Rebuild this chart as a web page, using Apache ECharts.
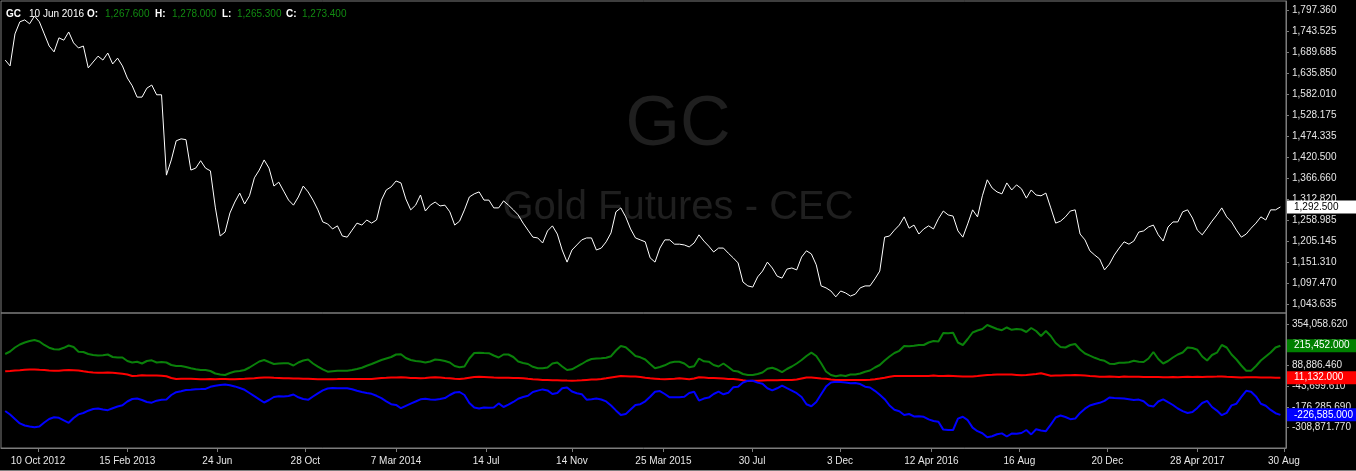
<!DOCTYPE html>
<html><head><meta charset="utf-8">
<script src="https://cdn.jsdelivr.net/npm/echarts@6/dist/echarts.min.js"></script>
<style>html,body{margin:0;padding:0;background:#000;overflow:hidden}#c{width:1356px;height:471px}</style>
</head><body><div id="c"></div>
<script>
// ---------- DATA ----------
const symbolName = 'GC';
const watermarkSub = 'Gold Futures - CEC';
const headerDate = '10 Jun 2016';
const headerKeys = ['O:', 'H:', 'L:', 'C:'];
const headerVals = ['1,267.600', '1,278.000', '1,265.300', '1,273.400'];

const firstDate = '2012-08-24';   // weekly samples
const stepDays = 7;
const axisMin = '2012-08-18';
const axisMax = '2017-09-02';

const tickDates = ['2012-10-10','2013-02-15','2013-06-24','2013-10-28','2014-03-07','2014-07-14','2014-11-14','2015-03-25','2015-07-30','2015-12-03','2016-04-12','2016-08-16','2016-12-20','2017-04-28','2017-08-30'];
const tickLabels = ['10 Oct 2012','15 Feb 2013','24 Jun','28 Oct','7 Mar 2014','14 Jul','14 Nov','25 Mar 2015','30 Jul','3 Dec','12 Apr 2016','16 Aug','20 Dec','28 Apr 2017','30 Aug'];

const priceTicks = [1043.635,1097.470,1151.310,1205.145,1258.985,1312.820,1366.660,1420.500,1474.335,1528.175,1582.010,1635.850,1689.685,1743.525,1797.360];
const priceMin = 1020.56, priceMax = 1820.43;
const indTicks = [-308871.77,-176285.69,-43699.61,88886.46,221472.54,354058.62];
const indMin = -438264, indMax = 424345;

const priceValues = [1669,1654,1736,1767,1772,1762,1782,1767,1736,1705,
1690,1726,1720,1741,1713,1700,1705,1649,1664,1679,
1669,1687,1659,1674,1654,1623,1603,1574,1574,1597,
1605,1580,1580,1374,1413,1462,1467,1465,1387,1392,
1411,1392,1385,1292,1218,1228,1277,1305,1328,1300,
1321,1367,1387,1413,1392,1346,1356,1333,1310,1297,
1318,1346,1331,1310,1285,1254,1249,1236,1244,1218,
1215,1233,1251,1246,1259,1251,1259,1310,1336,1344,
1359,1354,1313,1285,1297,1323,1282,1297,1305,1295,
1297,1280,1246,1256,1285,1318,1326,1331,1310,1310,
1290,1290,1308,1297,1285,1272,1251,1233,1215,1213,
1200,1231,1244,1223,1182,1151,1182,1195,1208,1213,
1213,1182,1187,1203,1226,1280,1290,1267,1236,1213,
1208,1203,1162,1151,1187,1208,1208,1197,1197,1195,
1190,1200,1221,1205,1192,1177,1187,1187,1174,1162,
1149,1100,1090,1087,1113,1128,1151,1136,1115,1110,
1133,1136,1131,1164,1180,1172,1144,1090,1085,1077,
1062,1077,1072,1064,1069,1085,1090,1090,1108,1128,
1215,1218,1233,1246,1267,1238,1246,1223,1236,1244,
1236,1262,1282,1272,1269,1231,1215,1249,1285,1267,
1321,1362,1341,1331,1326,1354,1336,1349,1339,1315,
1336,1323,1321,1328,1290,1251,1256,1267,1282,1285,
1223,1208,1180,1169,1159,1131,1146,1169,1187,1203,
1197,1205,1228,1231,1241,1246,1221,1205,1241,1254,
1254,1280,1285,1264,1233,1221,1238,1256,1272,1290,
1267,1254,1233,1215,1223,1238,1251,1267,1259,1285,
1285,1292.5];

const greenValues = [162400,178300,203900,223100,235800,245400,251800,242200,219900,202600,
192400,191100,202000,216700,207100,177100,175200,162400,156000,152800,
154700,159200,143200,140000,140000,117600,108100,113200,101700,117600,
122100,108100,111200,108100,92100,85700,85700,79300,71000,65300,
60100,60100,53700,37800,31400,28200,40900,50500,53700,60100,
76100,95300,114400,124000,111200,98500,101700,102900,102900,88900,
108100,120800,127200,101700,81200,64600,49300,52500,55700,55700,
55700,60100,66500,74800,87600,98500,111200,124000,133600,143200,
159200,161100,136800,124000,117600,114400,108100,114400,127200,124000,
117600,108100,85700,78000,82500,133600,168800,170700,168800,167500,
152800,140000,159200,159200,143200,114400,104900,98500,80600,71000,
71000,76100,101700,108100,82500,60100,64600,81200,98500,117600,
130400,133600,134900,138100,148300,184700,213500,205800,178300,149600,
141300,127200,98500,71000,79300,90200,106200,113200,113200,101700,
77400,84400,133600,115700,113200,92100,82500,101700,79300,55700,
50500,34600,28200,28200,34600,44100,67800,74800,63300,46100,
66500,82500,101700,124000,149600,170700,149600,102900,50500,28200,
19900,26900,21800,31400,31400,37800,49300,57000,76100,92100,
120800,146400,168800,182800,213500,212200,214800,219900,219900,235800,
245400,242200,296600,295300,298500,235800,219900,258200,299700,312500,
322100,347700,334900,322100,314400,331700,317000,322100,318900,302900,
328500,309300,277400,309300,277400,232700,207100,203900,219900,226300,
191100,165600,151500,138100,126000,118900,100400,98500,106800,106800,
110000,118900,112500,111200,133600,175200,130400,101700,117600,140000,
159200,171900,203900,200700,189200,146400,120800,156000,170700,219900,
203900,159200,127200,88900,55700,55700,85700,120800,146400,171900,
203900,215452];

const redValues = [51800,53700,56300,58800,61400,63300,64000,62000,60100,56900,
55000,55000,58800,60100,58800,57600,51800,47300,44800,42900,
42900,44100,42900,39700,36500,31400,21800,23700,26300,25000,
24300,24300,23700,20500,9000,2600,3900,4500,4500,2600,
700,1300,2600,1300,2600,2600,1300,700,2600,3900,
5800,7700,10300,12800,12200,10300,9000,7700,7100,5800,
5800,4500,3900,2600,1300,700,700,1300,1900,2600,
3200,2600,1900,2600,3200,2600,5800,9000,10300,12200,
12800,13500,11600,9600,8400,7100,9000,12200,13500,11600,
9000,7100,4500,2600,5800,10900,15400,16700,15400,14100,
12200,10900,10900,10300,9600,9000,7100,3900,1300,-1200,
-3800,-4400,-5100,-5700,-6300,-7600,-8300,-7000,-5100,-3100,
-1200,100,2600,7100,12200,17300,21800,20500,19200,17900,
15400,10900,7100,4500,1900,700,2600,4500,7100,4500,
1300,5800,13500,11600,9600,8400,7100,5200,3200,1900,
100,-5100,-9500,-8900,-8300,-7000,-5700,-5100,-5100,-4400,
-4400,-3800,-1200,5800,12200,11600,9000,6400,3900,-1200,
-3800,-3100,-4400,-3800,-3100,-3800,-4400,-1900,1300,5200,
10300,16700,21800,22400,21100,21800,22400,21100,21800,22400,
24300,21800,21800,23100,21800,20500,19200,17900,18600,21800,
25600,28200,29400,30700,32000,32000,30700,28800,26900,28200,
31400,34600,39000,31400,23700,25000,25600,26300,26900,28200,
26900,24300,21800,19900,17300,17300,18600,17300,16000,17900,
17300,16700,17300,16000,15400,14700,15400,14100,13500,14700,
13500,15400,16700,16000,17300,15400,16700,17300,17900,18600,
16700,15400,14100,12800,13500,14100,13500,12800,12200,11600,
10900,11132];

const blueValues = [-201800,-224200,-253000,-281100,-294500,-300900,-306000,-301500,-275300,-253000,
-242100,-245300,-261900,-277200,-246600,-223600,-214600,-199900,-189100,-185900,
-192300,-196700,-184000,-173100,-165400,-141100,-125200,-122000,-131600,-144300,
-148800,-136000,-130300,-127700,-99600,-81700,-75300,-68300,-65800,-62600,
-61900,-60600,-47200,-40200,-35700,-31900,-37600,-44700,-54900,-66400,
-86800,-107300,-127100,-147500,-131600,-112400,-107300,-109200,-106000,-96400,
-114300,-125200,-130300,-109200,-88700,-70200,-58100,-54200,-56200,-56800,
-56800,-62600,-72800,-80400,-86800,-92000,-104700,-120100,-140500,-158400,
-162900,-184000,-169300,-154600,-141100,-127100,-123300,-128400,-130300,-125200,
-119400,-99600,-83600,-80400,-99600,-150700,-179500,-186500,-180100,-181400,
-179500,-153300,-176300,-161600,-144300,-123300,-112400,-104700,-80400,-71500,
-63800,-70200,-93200,-86800,-56200,-51100,-77300,-88700,-94500,-129600,
-126400,-122600,-128400,-140500,-166700,-198000,-227400,-221700,-192300,-162900,
-158400,-139900,-111100,-78500,-74700,-93200,-114300,-114300,-114300,-111100,
-86800,-78500,-135400,-122600,-116200,-93200,-78500,-95100,-85600,-50400,
-47200,-19800,-8200,-8900,-20400,-27400,-56200,-69600,-56800,-39600,
-56200,-72100,-88100,-112400,-159000,-171800,-144300,-95100,-45900,-19100,
-15300,-16600,-19800,-24900,-23000,-29400,-46600,-51700,-72800,-97700,
-126400,-166700,-193500,-203800,-227400,-221000,-236300,-235700,-238900,-255500,
-265700,-270200,-320700,-323200,-323200,-250400,-238900,-260600,-307900,-330900,
-343700,-369300,-362900,-350700,-344900,-364700,-346200,-346900,-342400,-323200,
-351400,-318800,-326400,-330900,-288700,-243400,-230600,-240200,-254200,-250400,
-214000,-187200,-166700,-157100,-149500,-136700,-115600,-119400,-120700,-122000,
-126400,-130900,-129000,-139200,-166700,-173700,-141100,-127100,-145600,-163500,
-185900,-202500,-214600,-208200,-182000,-150700,-136700,-176300,-199300,-228700,
-214000,-166100,-155200,-111100,-72800,-78500,-108600,-155800,-168600,-194800,
-215900,-226585];

// ---------- HELPERS ----------
function ts(s) { const p = s.split('-').map(Number); return Date.UTC(p[0], p[1] - 1, p[2]); }
function fmt(v) {
  const s = Math.abs(v).toFixed(3); const parts = s.split('.');
  return (v < 0 ? '-' : '') + parts[0].replace(/\B(?=(\d{3})+(?!\d))/g, ',') + '.' + parts[1];
}
const DAY = 86400000;
const t0 = ts(firstDate);
const dates = priceValues.map((_, i) => t0 + i * stepDays * DAY);
const tickMs = tickDates.map(ts);
const pair = arr => arr.map((v, i) => [dates[i], v]);

const FONT = '"Liberation Sans", Arial, sans-serif';
const GRAY = '#7c7c7c';
const LBL = '#e6e6e6';

function endMarker(value, bg, fg) {
  return {
    silent: true, symbol: ['none', 'none'], animation: false,
    lineStyle: { width: 0, color: 'rgba(0,0,0,0)' },
    label: {
      show: true, position: 'end', distance: 1,
      formatter: fmt(value), color: fg, backgroundColor: bg,
      fontSize: 10, fontFamily: FONT, padding: [2, 2, 1, 7], width: 62, overflow: 'truncate'
    },
    data: [{ yAxis: value }]
  };
}

const chart = echarts.init(document.getElementById('c'), null, { renderer: 'canvas' });
const headerEls = [];
const hx = [87, 155, 222, 286], vx = [105, 172, 237, 302];
headerEls.push({ type: 'text', left: 6, top: 9, style: { text: symbolName, fill: '#fff', font: 'bold 10px ' + FONT } });
headerEls.push({ type: 'text', left: 29, top: 9, style: { text: headerDate, fill: '#fff', font: '10px ' + FONT } });
headerKeys.forEach((k, i) => {
  headerEls.push({ type: 'text', left: hx[i], top: 9, style: { text: k, fill: '#fff', font: 'bold 10px ' + FONT } });
  headerEls.push({ type: 'text', left: vx[i], top: 9, style: { text: headerVals[i], fill: '#118a11', font: '10px ' + FONT } });
});

chart.setOption({
  backgroundColor: '#000',
  animation: false,
  textStyle: { fontFamily: FONT },
  graphic: [
    { type: 'text', z: -10, x: 678, y: 126, style: { text: symbolName, fill: '#1f1f1f', font: '70px ' + FONT, align: 'center', verticalAlign: 'middle' } },
    { type: 'text', z: -10, x: 678, y: 208, style: { text: watermarkSub, fill: '#1f1f1f', font: '40px ' + FONT, align: 'center', verticalAlign: 'middle' } },
    { type: 'line', shape: { x1: 0, y1: 470.5, x2: 1356, y2: 470.5 }, style: { stroke: GRAY, lineWidth: 1 } },
    ...headerEls
  ],
  grid: [
    { left: 1, top: 1, right: 70, height: 312, show: true, borderColor: GRAY, borderWidth: 1 },
    { left: 1, top: 313, right: 70, bottom: 23, show: true, borderColor: GRAY, borderWidth: 1 }
  ],
  xAxis: [
    { type: 'value', gridIndex: 0, min: ts(axisMin), max: ts(axisMax), show: false, splitLine: { show: false } },
    { type: 'value', gridIndex: 1, min: ts(axisMin), max: ts(axisMax), splitLine: { show: false },
      axisLine: { show: true, onZero: false, lineStyle: { color: GRAY } },
      axisTick: { show: true, length: 4, lineStyle: { color: GRAY }, customValues: tickMs },
      axisLabel: { color: LBL, fontSize: 10, margin: 8, customValues: tickMs,
        formatter: v => { const i = tickMs.indexOf(v); return i >= 0 ? tickLabels[i] : ''; } } }
  ],
  yAxis: [
    { type: 'value', gridIndex: 0, position: 'right', min: priceMin, max: priceMax, splitLine: { show: false },
      axisLine: { show: true, onZero: false, lineStyle: { color: GRAY } },
      axisTick: { show: true, length: 3, lineStyle: { color: GRAY }, customValues: priceTicks },
      axisLabel: { color: LBL, fontSize: 10, margin: 6, customValues: priceTicks, formatter: v => fmt(v) } },
    { type: 'value', gridIndex: 1, position: 'right', min: indMin, max: indMax, splitLine: { show: false },
      axisLine: { show: true, onZero: false, lineStyle: { color: GRAY } },
      axisTick: { show: true, length: 3, lineStyle: { color: GRAY }, customValues: indTicks },
      axisLabel: { color: LBL, fontSize: 10, margin: 6, customValues: indTicks, formatter: v => fmt(v) } }
  ],
  series: [
    { name: 'price', type: 'line', xAxisIndex: 0, yAxisIndex: 0, data: pair(priceValues), showSymbol: false, clip: false,
      lineStyle: { color: '#ffffff', width: 1 }, z: 3,
      markLine: endMarker(priceValues[priceValues.length - 1], '#ffffff', '#000000') },
    { name: 'green', type: 'line', xAxisIndex: 1, yAxisIndex: 1, data: pair(greenValues), showSymbol: false, clip: false,
      lineStyle: { color: '#0a800a', width: 2 },
      markLine: endMarker(greenValues[greenValues.length - 1], '#008000', '#ffffff') },
    { name: 'red', type: 'line', xAxisIndex: 1, yAxisIndex: 1, data: pair(redValues), showSymbol: false, clip: false,
      lineStyle: { color: '#ff0000', width: 2 },
      markLine: endMarker(redValues[redValues.length - 1], '#ff0000', '#ffffff') },
    { name: 'blue', type: 'line', xAxisIndex: 1, yAxisIndex: 1, data: pair(blueValues), showSymbol: false, clip: false,
      lineStyle: { color: '#0000ff', width: 2 },
      markLine: endMarker(blueValues[blueValues.length - 1], '#0000ff', '#ffffff') }
  ]
});
</script></body></html>
